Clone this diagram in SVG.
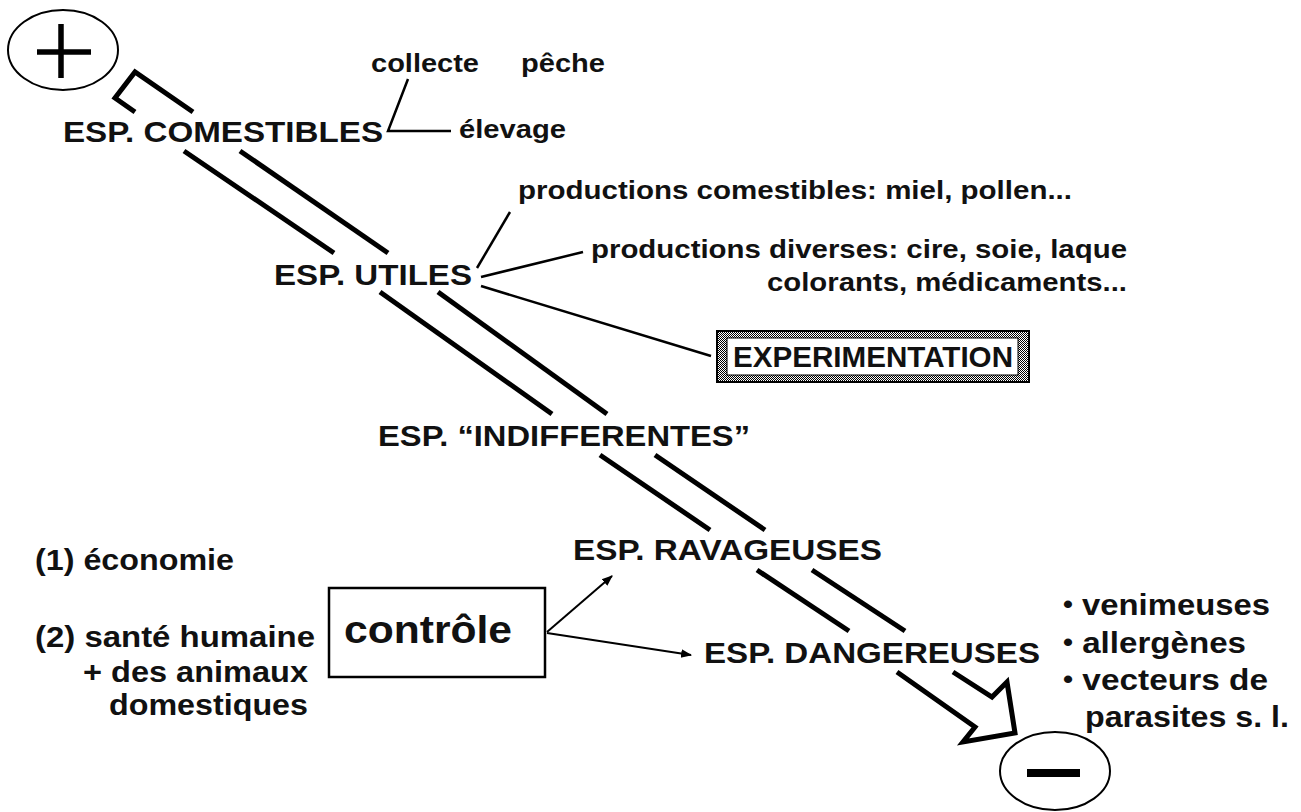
<svg xmlns="http://www.w3.org/2000/svg" width="1301" height="812" viewBox="0 0 1301 812">
<defs>
<style>
text{font-family:"Liberation Sans",Arial,Helvetica,sans-serif;font-weight:bold;fill:#111}
.esp{font-size:30px}
.sm{font-size:25px}
.md{font-size:29px}
.bul{font-size:25px}
.band{stroke:#000;stroke-width:5;fill:none;stroke-linejoin:miter;stroke-linecap:butt}
.conn{stroke:#000;stroke-width:2.5;fill:none}
.arr{stroke:#000;stroke-width:2;fill:none}
.ell{fill:none;stroke:#000;stroke-width:2}
</style>
<marker id="ah" viewBox="0 0 10 10" refX="9" refY="5" markerWidth="11" markerHeight="11" markerUnits="userSpaceOnUse" orient="auto"><path d="M0,1 L10,5 L0,9 z" fill="#000"/></marker>
<pattern id="stip" width="2" height="2" patternUnits="userSpaceOnUse"><rect width="2" height="2" fill="#fff"/><rect width="1" height="1" fill="#000"/><rect x="1" y="1" width="1" height="1" fill="#000"/></pattern>
</defs>
<rect width="1301" height="812" fill="#fff"/>

<g id="gradient-arrow" class="band">
<polyline points="193,112 135,72 115,98 135,112"/>
<line x1="184" y1="151" x2="334" y2="253"/>
<line x1="240" y1="151" x2="388" y2="253"/>
<line x1="380" y1="292" x2="552" y2="414"/>
<line x1="438" y1="292" x2="607" y2="414"/>
<line x1="600" y1="455" x2="710" y2="530"/>
<line x1="655" y1="455" x2="765" y2="530"/>
<line x1="757" y1="570" x2="849" y2="631"/>
<line x1="812" y1="570" x2="905" y2="631"/>
<polyline points="897,672 975,727 963,742 1015,733 1007,682 992,697 953,672"/>
</g>

<g id="connectors">
<polyline class="conn" points="408,79 388,131 451,131"/>
<line class="conn" x1="477" y1="268" x2="510" y2="212"/>
<line class="conn" x1="481" y1="277" x2="583" y2="252"/>
<line class="conn" x1="481" y1="286" x2="711" y2="356"/>
<line class="arr" x1="547" y1="632" x2="612" y2="576" marker-end="url(#ah)"/>
<line class="arr" x1="547" y1="633" x2="691" y2="655" marker-end="url(#ah)"/>
</g>

<g id="plus">
<ellipse class="ell" cx="63" cy="50" rx="55" ry="40"/>
<line x1="37" y1="52" x2="91" y2="52" stroke="#000" stroke-width="5.5"/>
<line x1="61" y1="24" x2="61" y2="78" stroke="#000" stroke-width="5.5"/>
</g>
<g id="minus">
<ellipse class="ell" cx="1055" cy="771" rx="55" ry="39"/>
<rect x="1027" y="769" width="53" height="8" fill="#000"/>
</g>

<g id="n-collecte"><text class="sm" x="371" y="72" textLength="108" lengthAdjust="spacingAndGlyphs">collecte</text></g>
<g id="n-peche"><text class="sm" x="521" y="72" textLength="84" lengthAdjust="spacingAndGlyphs">pêche</text></g>
<g id="n-comestibles"><text class="esp" x="63" y="142" textLength="320" lengthAdjust="spacingAndGlyphs">ESP. COMESTIBLES</text></g>
<g id="n-elevage"><text class="sm" x="459" y="138" textLength="107" lengthAdjust="spacingAndGlyphs">élevage</text></g>
<g id="n-prod-comestibles"><text class="sm" x="518" y="199" textLength="554" lengthAdjust="spacingAndGlyphs">productions comestibles: miel, pollen...</text></g>
<g id="n-utiles"><text class="esp" x="274" y="285" textLength="198" lengthAdjust="spacingAndGlyphs">ESP. UTILES</text></g>
<g id="n-prod-diverses">
<text class="sm" x="591" y="258" textLength="536" lengthAdjust="spacingAndGlyphs">productions diverses: cire, soie, laque</text>
<text class="sm" x="767" y="291" textLength="360" lengthAdjust="spacingAndGlyphs">colorants, médicaments...</text>
</g>
<g id="n-experimentation">
<rect x="717" y="331" width="312" height="51" fill="url(#stip)" stroke="#000" stroke-width="2"/>
<rect x="727" y="338" width="291" height="37" fill="#fff" stroke="#000" stroke-width="1"/>
<text x="733" y="367" font-size="30" textLength="280" lengthAdjust="spacingAndGlyphs">EXPERIMENTATION</text>
</g>
<g id="n-indifferentes"><text class="esp" x="378" y="446" textLength="372" lengthAdjust="spacingAndGlyphs">ESP. “INDIFFERENTES”</text></g>
<g id="n-ravageuses"><text class="esp" x="573" y="560" textLength="309" lengthAdjust="spacingAndGlyphs">ESP. RAVAGEUSES</text></g>
<g id="n-motifs">
<text class="md" x="35" y="570" textLength="199" lengthAdjust="spacingAndGlyphs">(1) économie</text>
<text class="md" x="35" y="647" textLength="280" lengthAdjust="spacingAndGlyphs">(2) santé humaine</text>
<text class="md" x="83" y="682" textLength="225" lengthAdjust="spacingAndGlyphs">+ des animaux</text>
<text class="md" x="109" y="715" textLength="199" lengthAdjust="spacingAndGlyphs">domestiques</text>
</g>
<g id="n-controle">
<rect x="329" y="588" width="216" height="89" fill="#fff" stroke="#000" stroke-width="2.5"/>
<text x="344" y="643" font-size="38" textLength="168" lengthAdjust="spacingAndGlyphs">contrôle</text>
</g>
<g id="n-dangereuses"><text class="esp" x="704" y="663" textLength="336" lengthAdjust="spacingAndGlyphs">ESP. DANGEREUSES</text></g>
<g id="n-dangers">
<text class="md" x="1063" y="615" textLength="207" lengthAdjust="spacingAndGlyphs"><tspan class="bul" dy="-2">•</tspan><tspan dy="2"> venimeuses</tspan></text>
<text class="md" x="1063" y="653" textLength="183" lengthAdjust="spacingAndGlyphs"><tspan class="bul" dy="-2">•</tspan><tspan dy="2"> allergènes</tspan></text>
<text class="md" x="1063" y="690" textLength="205" lengthAdjust="spacingAndGlyphs"><tspan class="bul" dy="-2">•</tspan><tspan dy="2"> vecteurs de</tspan></text>
<text class="md" x="1085" y="727" textLength="204" lengthAdjust="spacingAndGlyphs">parasites s. l.</text>
</g>
</svg>
